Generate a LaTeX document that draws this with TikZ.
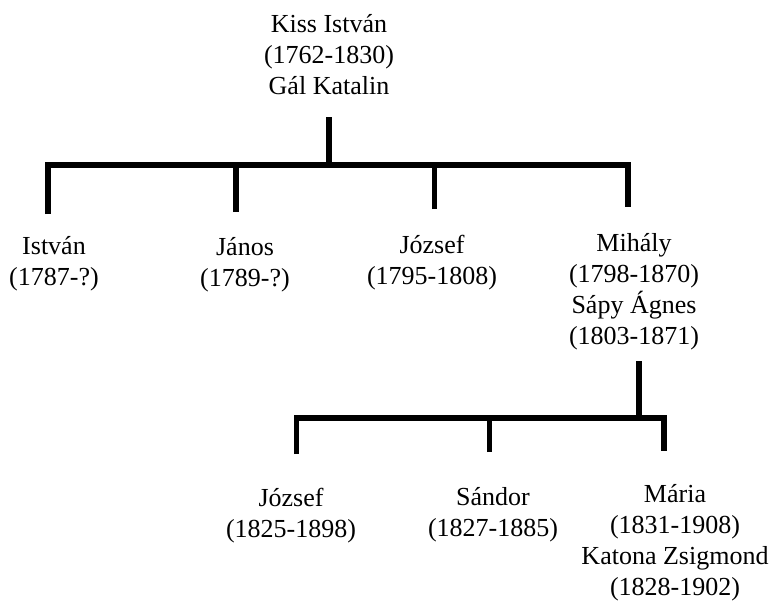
\documentclass[tikz,border=0pt]{standalone}
\usepackage{fontspec}
\setmainfont{Liberation Serif}
\begin{document}
\begin{tikzpicture}[x=1pt,y=-1pt,
  person/.style={align=center, inner sep=0pt, anchor=base,
    font=\fontsize{26}{30.8}\selectfont},
  tree/.style={line width=5.6pt, line cap=butt, line join=miter}]
\useasboundingbox (0,0) rectangle (776,602);
% people (anchored at the baseline of the last line)
\node[person] (kiss) at (329,94) {Kiss István\\(1762-1830)\\Gál Katalin};
\node[person] (istvan) at (54,285) {István\\(1787-?)};
\node[person] (janos) at (245,286) {János\\(1789-?)};
\node[person] (jozsef1) at (432,284) {József\\(1795-1808)};
\node[person] (mihaly) at (634,344) {Mihály\\(1798-1870)\\Sápy Ágnes\\(1803-1871)};
\node[person] (jozsef2) at (291,537) {József\\(1825-1898)};
\node[person] (sandor) at (493,536) {Sándor\\(1827-1885)};
\node[person] (maria) at (675,595) {Mária\\(1831-1908)\\Katona Zsigmond\\(1828-1902)};
% level 1 connectors
\coordinate (r1) at (329,117);
\coordinate (j1) at (329,165);
\coordinate (e1) at (48,214);
\coordinate (e2) at (236,212);
\coordinate (e3) at (434.5,209);
\coordinate (e4) at (628,207);
\draw[tree] (e1) |- (e4 |- j1) -- (e4);
\draw[tree] (r1) -- (j1);
\draw[tree] (e2) -- (e2 |- j1);
\draw[tree] (e3) -- (e3 |- j1);
% level 2 connectors
\coordinate (r2) at (639,361);
\coordinate (j2) at (639,418);
\coordinate (f1) at (296.5,454);
\coordinate (f2) at (489.5,452);
\coordinate (f3) at (664,451);
\draw[tree] (f1) |- (f3 |- j2) -- (f3);
\draw[tree] (r2) -- (j2);
\draw[tree] (f2) -- (f2 |- j2);
\end{tikzpicture}
\end{document}
